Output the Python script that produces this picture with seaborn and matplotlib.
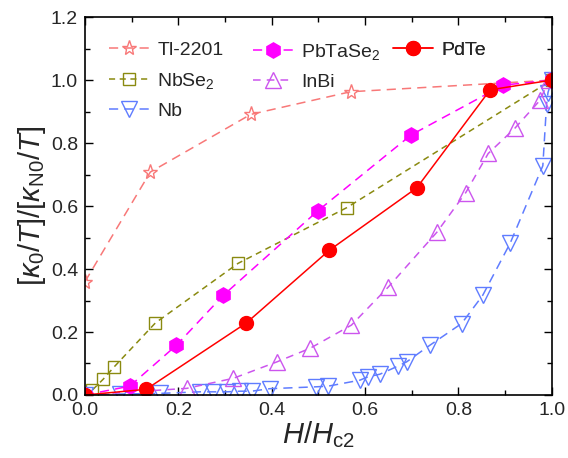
import numpy as np
import pandas as pd
import matplotlib
matplotlib.use('Agg')
import matplotlib.pyplot as plt
import seaborn as sns

# values
tl_x = [0.0, 0.14, 0.355, 0.569, 1.0]
tl_y = [0.36, 0.708, 0.891, 0.963, 1.0]

nbse2_x = [0.016, 0.039, 0.063, 0.151, 0.328, 0.561, 1.0]
nbse2_y = [0.016, 0.05, 0.09, 0.229, 0.418, 0.595, 1.0]

nb_x = [0.0, 0.075, 0.16, 0.246, 0.275, 0.304, 0.332, 0.357, 0.396, 0.496, 0.521, 0.589,
        0.607, 0.632, 0.671, 0.689, 0.739, 0.807, 0.852, 0.911, 0.981, 0.989, 0.992, 1.0]
nb_y = [0.0, 0.003, 0.005, 0.01, 0.01, 0.01, 0.012, 0.012, 0.02, 0.026, 0.028, 0.047,
        0.058, 0.066, 0.092, 0.105, 0.158, 0.227, 0.316, 0.482, 0.728, 0.923, 0.96, 1.0]

pbtase2_x = [0.0, 0.096, 0.196, 0.296, 0.499, 0.699, 0.896, 1.0]
pbtase2_y = [0.0, 0.028, 0.158, 0.316, 0.585, 0.826, 0.984, 1.0]

inbi_x = [0.0, 0.218, 0.318, 0.411, 0.482, 0.571, 0.65, 0.754, 0.816, 0.864, 0.921, 0.975, 0.994]
inbi_y = [0.0, 0.021, 0.053, 0.105, 0.148, 0.222, 0.343, 0.517, 0.643, 0.767, 0.847, 0.936, 1.0]

pdte_x = [0.0, 0.131, 0.346, 0.523, 0.711, 0.868, 1.0]
pdte_y = [0.0, 0.018, 0.229, 0.459, 0.658, 0.969, 1.0]

sns.set_style('ticks')
plt.rcParams['font.family'] = ['Liberation Sans', 'DejaVu Sans']
plt.rcParams['mathtext.fontset'] = 'custom'
plt.rcParams['mathtext.rm'] = 'Liberation Sans'
plt.rcParams['mathtext.it'] = 'Liberation Sans:italic'
plt.rcParams['mathtext.bf'] = 'Liberation Sans:bold'

series = [
    ('Tl-2201', tl_x, tl_y, dict(color='#F87878', marker='*', markersize=11, mfc='none', ls=(0, (6, 4)))),
    ('NbSe$_2$', nbse2_x, nbse2_y, dict(color='#8A8A10', marker='s', markersize=8, mfc='none', ls=(0, (4, 3)))),
    ('Nb', nb_x, nb_y, dict(color='#5F7CFF', marker='v', markersize=11, mfc='none', ls=(0, (6, 4)))),
    ('InBi', inbi_x, inbi_y, dict(color='#CC55EE', marker='^', markersize=11, mfc='none', ls=(0, (5, 4)))),
    ('PbTaSe$_2$', pbtase2_x, pbtase2_y, dict(color='#FF00FF', marker='h', markersize=11, mfc='#FF00FF', ls=(0, (6, 4)))),
    ('PdTe', pdte_x, pdte_y, dict(color='#FF0000', marker='o', markersize=10, mfc='#FF0000', ls='-')),
]

fig = plt.figure(figsize=(5.68, 4.58), dpi=100)
ax = fig.add_axes([0.1496, 0.1376, 0.8217, 0.825])

lines = {}
for name, xs, ys, st in series:
    d = pd.DataFrame({'x': xs, 'y': ys})
    sns.lineplot(data=d, x='x', y='y', ax=ax, estimator=None, sort=False, legend=False,
                 color=st['color'], marker=st['marker'], markersize=st['markersize'],
                 markerfacecolor=st['mfc'], markeredgecolor=st['color'], markeredgewidth=1,
                 linestyle=st['ls'], linewidth=1.1)
    lines[name] = ax.get_lines()[-1]

ax.set_xlim(0, 1.0)
ax.set_ylim(0, 1.2)
ax.set_xticks(np.arange(0, 1.01, 0.2))
ax.set_yticks(np.arange(0, 1.21, 0.2))
ax.set_xticks(np.arange(0.1, 1.0, 0.2), minor=True)
ax.set_yticks(np.arange(0.1, 1.2, 0.2), minor=True)
ax.xaxis.set_major_formatter(matplotlib.ticker.FormatStrFormatter('%.1f'))
ax.yaxis.set_major_formatter(matplotlib.ticker.FormatStrFormatter('%.1f'))
ax.tick_params(which='both', direction='in', top=True, right=True, labelsize=14, width=1, color='black')
ax.tick_params(which='major', length=6, pad=5)
ax.tick_params(which='minor', length=3.5)
for sp in ax.spines.values():
    sp.set_linewidth(1.2)
    sp.set_color('black')

ax.set_xlabel(r'$H/H_{\rm c2}$', fontsize=21, labelpad=0)
ax.set_ylabel(r'$[\kappa_0/T]/[\kappa_{\rm N0}/T]$', fontsize=21, labelpad=2)

leg_kw = dict(loc='upper left', frameon=False, fontsize=14, handlelength=2.1, handletextpad=0.4,
              labelspacing=0.6, borderpad=0, borderaxespad=0)
cols = [(['Tl-2201', 'NbSe$_2$', 'Nb'], 0.051),
        (['PbTaSe$_2$', 'InBi'], 0.359),
        (['PdTe'], 0.659)]
for names, xpos in cols:
    leg = ax.legend([lines[n] for n in names], names, bbox_to_anchor=(xpos, 0.935), **leg_kw)
    ax.add_artist(leg)

fig.savefig('out.png', dpi=100)
